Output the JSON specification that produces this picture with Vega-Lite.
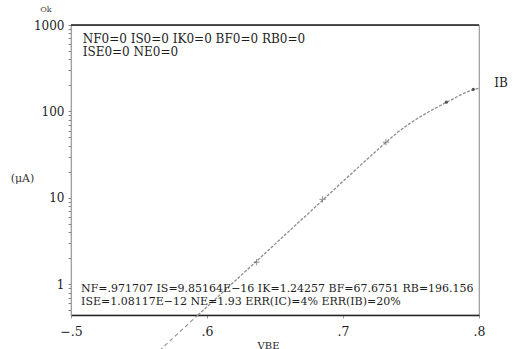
{
  "$schema": "https://vega.github.io/schema/vega-lite/v6.json",
  "width": 408,
  "height": 290,
  "autosize": {"type": "none"},
  "padding": {"left": 71, "top": 25, "right": 34, "bottom": 34},
  "background": "white",
  "config": {
    "view": {"stroke": "#9a9a9a", "strokeWidth": 1.2},
    "font": "DejaVu Serif",
    "text": {"font": "DejaVu Serif", "color": "#1e1e1e"}
  },
  "datasets": {
    "curve": [
      {"VBE": 0.5934, "IB": 0.44},
      {"VBE": 0.60, "IB": 0.548},
      {"VBE": 0.61, "IB": 0.766},
      {"VBE": 0.62, "IB": 1.07},
      {"VBE": 0.63, "IB": 1.49},
      {"VBE": 0.64, "IB": 2.08},
      {"VBE": 0.65, "IB": 2.91},
      {"VBE": 0.66, "IB": 4.06},
      {"VBE": 0.67, "IB": 5.67},
      {"VBE": 0.68, "IB": 7.92},
      {"VBE": 0.69, "IB": 11.1},
      {"VBE": 0.70, "IB": 15.5},
      {"VBE": 0.71, "IB": 21.6},
      {"VBE": 0.72, "IB": 30.1},
      {"VBE": 0.73, "IB": 41.7},
      {"VBE": 0.74, "IB": 56.9},
      {"VBE": 0.75, "IB": 74.1},
      {"VBE": 0.76, "IB": 92.9},
      {"VBE": 0.77, "IB": 113.5},
      {"VBE": 0.78, "IB": 137},
      {"VBE": 0.79, "IB": 165},
      {"VBE": 0.80, "IB": 186}
    ],
    "ext": [
      {"VBE": 0.565, "IB": 0.17},
      {"VBE": 0.58, "IB": 0.281},
      {"VBE": 0.5934, "IB": 0.44}
    ],
    "crosses": [
      {"VBE": 0.6365, "IB": 1.8},
      {"VBE": 0.685, "IB": 9.6},
      {"VBE": 0.7316, "IB": 44}
    ],
    "dots": [
      {"VBE": 0.776, "IB": 128},
      {"VBE": 0.7958, "IB": 180}
    ]
  },
  "layer": [
    {
      "data": {"name": "curve"},
      "mark": {"type": "line", "color": "#8c8c8c", "strokeWidth": 1.3, "strokeDash": [3, 1.5], "interpolate": "monotone"},
      "encoding": {
        "x": {
          "field": "VBE", "type": "quantitative",
          "scale": {"domain": [0.5, 0.8], "nice": false, "zero": false},
          "axis": {
            "values": [0.5, 0.6, 0.7, 0.8],
            "labelExpr": "datum.value < 0.55 ? '−.5' : (datum.value < 0.65 ? '.6' : (datum.value < 0.75 ? '.7' : '.8'))",
            "labelFontSize": 12.5, "labelFont": "DejaVu Serif", "labelColor": "#1e1e1e",
            "labelPadding": 7, "labelFlush": false,
            "tickSize": 3, "tickColor": "#999",
            "domainColor": "#222", "domainWidth": 1.6,
            "grid": false,
            "title": "VBE", "titleFont": "DejaVu Serif", "titleFontSize": 10, "titleFontWeight": "normal",
            "titleColor": "#1e1e1e", "titleX": 197, "titleY": 30, "titleBaseline": "middle", "titleAlign": "center"
          }
        },
        "y": {
          "field": "IB", "type": "quantitative",
          "scale": {"type": "log", "domain": [0.44, 1000], "nice": false},
          "axis": {
            "values": [0.5, 0.6, 0.7, 0.8, 0.9, 1, 2, 3, 4, 5, 6, 7, 8, 9, 10, 20, 30, 40, 50, 60, 70, 80, 90, 100, 200, 300, 400, 500, 600, 700, 800, 900, 1000],
            "labelExpr": "datum.value == 1 ? '1' : (datum.value == 10 ? '10' : (datum.value == 100 ? '100' : (datum.value == 1000 ? '1000' : '')))",
            "labelFontSize": 12, "labelFont": "DejaVu Serif", "labelColor": "#1e1e1e",
            "labelPadding": 4, "labelOverlap": false, "labelBound": false,
            "tickSize": 3, "tickColor": "#8a8a8a",
            "domainColor": "#a0a0a0", "domainDash": [2, 2], "domainWidth": 1.2,
            "grid": false,
            "title": "(μA)", "titleAngle": 0, "titleFont": "DejaVu Serif", "titleFontSize": 11,
            "titleFontWeight": "normal", "titleColor": "#333",
            "titleX": -49, "titleY": 153, "titleAlign": "center", "titleBaseline": "middle"
          }
        }
      }
    },
    {
      "data": {"name": "ext"},
      "mark": {"type": "line", "color": "#8c8c8c", "strokeWidth": 1.1, "strokeDash": [4, 3], "clip": false},
      "encoding": {
        "x": {"field": "VBE", "type": "quantitative"},
        "y": {"field": "IB", "type": "quantitative"}
      }
    },
    {
      "data": {"name": "crosses"},
      "mark": {"type": "point", "shape": "M-1,0H1M0,-1V1", "size": 40, "filled": false, "stroke": "#666", "strokeWidth": 1},
      "encoding": {
        "x": {"field": "VBE", "type": "quantitative"},
        "y": {"field": "IB", "type": "quantitative"}
      }
    },
    {
      "data": {"name": "dots"},
      "mark": {"type": "point", "shape": "circle", "size": 10, "filled": true, "color": "#444", "opacity": 0.9},
      "encoding": {
        "x": {"field": "VBE", "type": "quantitative"},
        "y": {"field": "IB", "type": "quantitative"}
      }
    },
    {
      "data": {"values": [{"edge": "top"}]},
      "mark": {"type": "rule", "color": "#222", "strokeWidth": 1.6},
      "encoding": {"y": {"datum": 1000}}
    },
    {
      "data": {"values": [{"label": "NF0=0 IS0=0 IK0=0 BF0=0 RB0=0\nISE0=0 NE0=0"}]},
      "mark": {"type": "text", "align": "left", "baseline": "top", "fontSize": 12, "lineBreak": "\n", "lineHeight": 13},
      "encoding": {"text": {"field": "label"}, "x": {"datum": 0.5086}, "y": {"datum": 780}}
    },
    {
      "data": {"values": [{"label": "NF=.971707 IS=9.85164E−16 IK=1.24257 BF=67.6751 RB=196.156\nISE=1.08117E−12 NE=1.93 ERR(IC)=4% ERR(IB)=20%"}]},
      "mark": {"type": "text", "align": "left", "baseline": "top", "fontSize": 11, "lineBreak": "\n", "lineHeight": 12.5},
      "encoding": {"text": {"field": "label"}, "x": {"datum": 0.5074}, "y": {"datum": 1.02}}
    },
    {
      "data": {"values": [{"label": "IB"}]},
      "mark": {"type": "text", "align": "center", "baseline": "middle", "fontSize": 12},
      "encoding": {"text": {"field": "label"}, "x": {"datum": 0.8162}, "y": {"datum": 213}}
    },
    {
      "data": {"values": [{"label": "Ok"}]},
      "mark": {"type": "text", "align": "center", "baseline": "middle", "fontSize": 8, "color": "#444"},
      "encoding": {"text": {"field": "label"}, "x": {"datum": 0.4816}, "y": {"datum": 1490}}
    }
  ]
}
